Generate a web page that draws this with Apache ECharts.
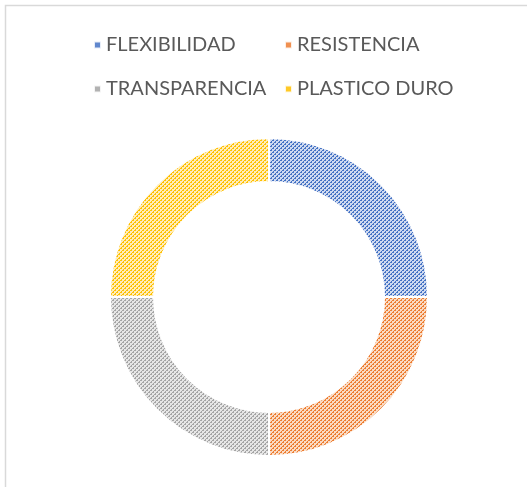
<!DOCTYPE html>
<html>
<head>
<meta charset="utf-8">
<script src="https://cdn.jsdelivr.net/npm/echarts@6/dist/echarts.min.js"></script>
<style>
  html, body { margin: 0; padding: 0; background: #fff; }
  #chart { width: 527px; height: 487px; }
</style>
</head>
<body>
<div id="chart"></div>
<script>
  const categories = ['FLEXIBILIDAD', 'RESISTENCIA', 'TRANSPARENCIA', 'PLASTICO DURO'];
  const values = [25, 25, 25, 25];

  // hatch colours: [line, background]
  const hatchColors = [
    ['#4472C4', '#CFDAF0'],
    ['#ED7D31', '#FADBC4'],
    ['#A5A5A5', '#E6E6E6'],
    ['#FFC000', '#FFEDBA']
  ];

  // small tile with upward diagonal stripes, like the office pattern fill
  function makeHatch (fg, bg) {
    const c = document.createElement('canvas');
    c.width = 8;
    c.height = 8;
    const ctx = c.getContext('2d');
    ctx.fillStyle = bg;
    ctx.fillRect(0, 0, 8, 8);
    ctx.fillStyle = fg;
    for (let x = 0; x < 8; x++) {
      for (let y = 0; y < 8; y++) {
        const k = (x + y) % 4;
        if (k === 0 || (k === 1 && y % 2 === 0)) {
          ctx.fillRect(x, y, 1, 1);
        }
      }
    }
    return { image: c, repeat: 'repeat' };
  }

  const seriesData = categories.map((name, i) => ({
    name: name,
    value: values[i],
    itemStyle: { color: makeHatch(hatchColors[i][0], hatchColors[i][1]) }
  }));

  const legendItems = categories.map((name, i) => ({
    name: name,
    itemStyle: { color: hatchColors[i][0], opacity: 0.85 }
  }));

  const legendText = {
    color: '#595959',
    fontSize: 20,
    fontFamily: 'Lato'
  };

  const option = {
    animation: false,
    backgroundColor: '#fff',
    graphic: [{
      type: 'rect',
      shape: { x: 5.5, y: 5.5, width: 600, height: 600 },
      style: { fill: 'none', stroke: '#D9D9D9', lineWidth: 1.5 },
      silent: true
    }],
    legend: [
      {
        data: [legendItems[0], legendItems[2]],
        orient: 'vertical',
        left: 88,
        top: 30,
        itemWidth: 7,
        itemHeight: 7,
        itemGap: 24,
        icon: 'rect',
        textStyle: legendText,
        selectedMode: false
      },
      {
        data: [legendItems[1], legendItems[3]],
        orient: 'vertical',
        left: 279,
        top: 30,
        itemWidth: 7,
        itemHeight: 7,
        itemGap: 24,
        icon: 'rect',
        textStyle: legendText,
        selectedMode: false
      }
    ],
    series: [
      {
        type: 'pie',
        center: [269, 297],
        radius: [115, 159],
        startAngle: 90,
        clockwise: true,
        silent: true,
        label: { show: false },
        labelLine: { show: false },
        itemStyle: { borderColor: '#fff', borderWidth: 2 },
        data: seriesData
      }
    ]
  };

  const chart = echarts.init(document.getElementById('chart'));
  chart.setOption(option);
</script>
</body>
</html>
